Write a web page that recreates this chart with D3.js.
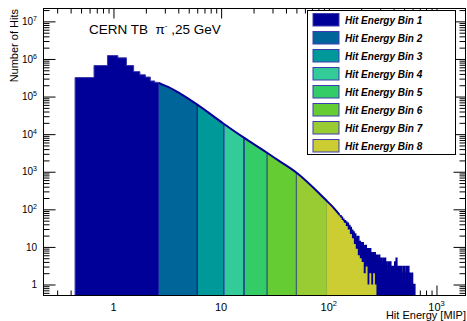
<!DOCTYPE html>
<html><head><meta charset="utf-8">
<script src="https://cdn.jsdelivr.net/npm/d3@7"></script>
<style>
body{margin:0;background:#fff}
svg{display:block}
text{font-family:"Liberation Sans",Arial,Helvetica,sans-serif}
</style>
</head><body>
<svg id="c" width="467" height="321"></svg>
<script>
// ---- data ----
const barEdges  = [0.44,0.66,0.88,1.10,1.32,1.54,1.76,1.98,2.20,2.42,2.64];
const barCounts = [3.2e5,6.7e5,1.23e6,1.07e6,6.7e5,4.6e5,3.8e5,3.3e5,2.6e5,2.38e5];
const curveE = [2.64,2.97,3.25,4.17,5.96,10.4,16.0,26.7,33.7,50.6,82.5,95.8,108.9,126];
const curveN = [2.3e5,1.98e5,1.78e5,1.2e5,6.2e4,1.95e4,8.3e3,3.2e3,2.04e3,925,257,168,116,71];
const tailEdges = [126,130,134,138,143,147,152,157,162,167,172,178,184,190,196,202,209,216,223,230,
                   237,245,253,261,270,278,283,287,292,297,302,306,311,316,321,327,332,337,343,348,
                   354,360,365,371,377,383,390,396,402,409,416,422,429,436,443,450,457,465,472,480,
                   488,495,503,511,520,528,537,545,554,563,572,581,590,600,615,630];
const tailCounts = [68,62,55,50,46,43,37,33,28,25,22,17,19,14,12,13,10,11,9,8,
                    9,7,6,7,5,6,4,5,6,4,3,5,4,4,5,3,5,4,2,3,
                    4,4,2,4,3,3,2,1,3,4,3,5,3,3,2,3,2,3,1,2,
                    3,3,1,2,3,3,1,3,2,2,1,1,2,1,1];
const bin8Edges  = [96,100,105,110,115,120,126,132,138,144,150,157,164,171,178,186,194,202,211,220,229,238,248,258,268,277];
const bin8Counts = [160,140,122,106,92,80,64,52,44,36,29,22,17,12,9,6,5,4,2,3,1,2,1,2,1];
const binBounds = [0.44,2.64,6.0,10.6,16.3,26.7,50,96,277];
const binNames  = ["Hit Energy Bin 1","Hit Energy Bin 2","Hit Energy Bin 3","Hit Energy Bin 4",
                   "Hit Energy Bin 5","Hit Energy Bin 6","Hit Energy Bin 7","Hit Energy Bin 8"];
const binColors = ["#000099","#006699","#009999","#33cc99","#33cc66","#66cc33","#99cc33","#cccc33"];
const yMajor = [1,10,100,1e3,1e4,1e5,1e6,1e7];
const yLabBase = ["1","10","10","10","10","10","10","10"];
const yLabExp  = ["","","2","3","4","5","6","7"];
const xMajor = [1,10,100,1000];
const xLabBase = ["1","10","10","10"];
const xLabExp  = ["","","2","3"];

// ---- layout ----
const L=43.5, R=465.5, T=8.5, B=295.5;
const svg = d3.select("#c");
const x = d3.scaleLog().domain([0.224,1860]).range([L,R]);
const y = d3.scaleLog().domain([0.51,2.2e7]).range([B,T]).clamp(true);

// ticks (drawn under the histogram)
const same=(a,b)=>Math.abs(a-b)/b<1e-6;
const yMinor = y.ticks().filter(v=>!yMajor.some(m=>same(v,m)));
const xMinor = x.ticks().filter(v=>!xMajor.some(m=>same(v,m)));
function ax(gen, vals, size, tx, ty){
  svg.append("g").attr("transform",`translate(${tx},${ty})`).style("color","#000")
    .call(gen.tickValues(vals).tickSize(size).tickSizeOuter(0).tickFormat(""))
    .call(g=>g.select(".domain").remove());
}
ax(d3.axisLeft(y), yMajor, -12, L, 0);
ax(d3.axisLeft(y), yMinor, -6, L, 0);
ax(d3.axisRight(y), yMajor, -12, R, 0);
ax(d3.axisRight(y), yMinor, -6, R, 0);
ax(d3.axisTop(x), xMajor, -10, 0, T);
ax(d3.axisTop(x), xMinor, -5, 0, T);
ax(d3.axisBottom(x), xMajor, -10, 0, B);
ax(d3.axisBottom(x), xMinor, -5, 0, B);

// histogram sections
const ymin = y.domain()[0];
const secA = barEdges.map((e,i)=>[e, barCounts[Math.min(i,barCounts.length-1)]]);
const secB = curveE.map((e,i)=>[e, curveN[i]]);
const secC = tailEdges.map((e,i)=>[e, tailCounts[Math.min(i,tailCounts.length-1)]]);
const sec8 = bin8Edges.map((e,i)=>[e, bin8Counts[Math.min(i,bin8Counts.length-1)]]);
const areaStep = d3.area().curve(d3.curveStepAfter).x(d=>x(d[0])).y0(B).y1(d=>y(d[1]));
const areaSmooth = d3.area().curve(d3.curveMonotoneX).x(d=>x(d[0])).y0(B).y1(d=>y(d[1]));
const lineStep = d3.line().curve(d3.curveStepAfter).x(d=>x(d[0])).y(d=>y(d[1]));
const lineSmooth = d3.line().curve(d3.curveMonotoneX).x(d=>x(d[0])).y(d=>y(d[1]));
const shapes = [areaStep(secA), areaSmooth(secB), areaStep(secC)];

const defs = svg.append("defs");
const cp = defs.append("clipPath").attr("id","hist");
shapes.forEach(d=>cp.append("path").attr("d",d));
for(let k=1;k<7;k++){
  defs.append("clipPath").attr("id","bin"+k).append("rect")
    .attr("x",x(binBounds[k])).attr("y",0)
    .attr("width",x(binBounds[k+1])-x(binBounds[k])).attr("height",B+1);
}
// full spectrum (navy)
const gAll = svg.append("g");
shapes.forEach(d=>gAll.append("path").attr("d",d).attr("fill",binColors[0]));
// bins 2..7
for(let k=1;k<7;k++){
  const g = svg.append("g").attr("clip-path",`url(#bin${k})`);
  shapes.forEach(d=>g.append("path").attr("d",d).attr("fill",binColors[k]));
}
// bin 8
svg.append("path").attr("d",areaStep(sec8)).attr("fill",binColors[7]);
// separators
const sepVals = [6.0,10.6,16.3,26.7,50];
const sepCols = ["#0b2d8a","#2a2ab0","#1a1a9c","#2b5878","#3a6670"];
const gSep = svg.append("g").attr("clip-path","url(#hist)");
sepVals.forEach((v,i)=>gSep.append("line").attr("x1",x(v)).attr("x2",x(v)).attr("y1",T).attr("y2",B)
  .attr("stroke",sepCols[i]).attr("stroke-width",1.3));
// outline
svg.append("path").attr("d",lineStep([[barEdges[0],ymin]].concat(secA)))
  .attr("fill","none").attr("stroke","#3a3ab0").attr("stroke-width",1);
svg.append("path").attr("d",lineSmooth(secB)).attr("fill","none").attr("stroke","#000099").attr("stroke-width",2);
svg.append("path").attr("d",lineStep(secC.concat([[tailEdges[tailEdges.length-1],ymin]])))
  .attr("fill","none").attr("stroke","#000099").attr("stroke-width",1.4);

// frame
svg.append("rect").attr("x",L).attr("y",T).attr("width",R-L).attr("height",B-T)
  .attr("fill","none").attr("stroke","#000").attr("stroke-width",1);

// tick labels
yMajor.forEach((v,i)=>{
  const t = svg.append("text").attr("x",37).attr("y",y(v)+3.6).attr("text-anchor","end")
    .attr("font-size",10).attr("fill","#000").text(yLabBase[i]);
  if(yLabExp[i]) t.append("tspan").attr("font-size",7).attr("dy",-4).text(yLabExp[i]);
});
xMajor.forEach((v,i)=>{
  const t = svg.append("text").attr("x",x(v)).attr("y",311).attr("text-anchor","middle")
    .attr("font-size",11).attr("fill","#000").text(xLabBase[i]);
  if(xLabExp[i]) t.append("tspan").attr("font-size",7.5).attr("dy",-5).text(xLabExp[i]);
});
// axis titles
svg.append("text").attr("transform","translate(18,9) rotate(-90)").attr("text-anchor","end")
  .attr("font-size",11).text("Number of Hits");
svg.append("text").attr("x",466).attr("y",319).attr("text-anchor","end")
  .attr("font-size",11).text("Hit Energy [MIP]");
// title
const tt = svg.append("text").attr("x",89).attr("y",34).attr("font-size",13.5).style("white-space","pre");
tt.append("tspan").text("CERN TB  \u03c0");
tt.append("tspan").attr("font-size",8).attr("dy",-6).text("-");
tt.append("tspan").attr("dy",6).text(" ,25 GeV");

// legend
svg.append("rect").attr("x",307.5).attr("y",10.5).attr("width",148).attr("height",144)
  .attr("fill","#fff").attr("stroke","#000");
binNames.forEach((n,i)=>{
  svg.append("rect").attr("x",313).attr("y",13.5+18*i).attr("width",26).attr("height",12.5)
    .attr("fill",binColors[i]).attr("stroke","#3c3cb0").attr("stroke-width",1);
  svg.append("text").attr("x",345).attr("y",23.5+18*i).attr("font-size",10)
    .attr("font-weight","bold").attr("font-style","italic").attr("fill","#000").text(n);
});
</script>
</body></html>
